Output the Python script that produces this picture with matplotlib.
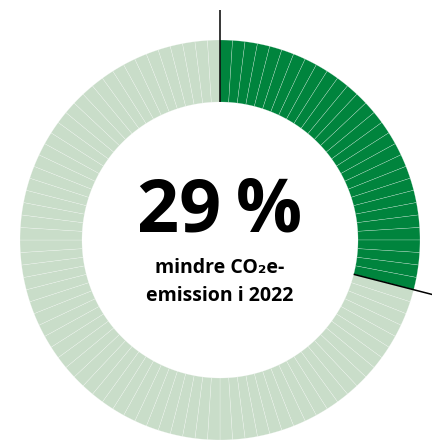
import matplotlib
matplotlib.use("Agg")
import matplotlib.pyplot as plt
import numpy as np

# Share of the ring that is highlighted (percent) and number of ring segments
share = 29
n_segments = 100
big_label = "29\u2009%"
sub_lines = ["mindre CO\u2082e-", "emission i 2022"]

dark_green = "#00843D"
light_green = "#C9DDC9"

plt.rcParams["font.family"] = ["Open Sans", "DejaVu Sans"]

fig = plt.figure(figsize=(4.32, 4.42), dpi=100)
ax = fig.add_axes([0, 0, 1, 1])

H = 442
cx, cy = 220, H - 240
r_out, r_in = 200, 138

colors = [dark_green if i < share else light_green for i in range(n_segments)]
ax.pie([1] * n_segments, colors=colors, startangle=90, counterclock=False,
       center=(cx, cy), radius=r_out,
       wedgeprops=dict(width=r_out - r_in, edgecolor=(1, 1, 1, 0.5), linewidth=0.3))

# black marker lines at start and end of the highlighted part
for frac, r_end in [(0, 230), (share / n_segments, 222)]:
    ang = np.pi / 2 - 2 * np.pi * frac
    ax.plot([cx + r_in * np.cos(ang), cx + r_end * np.cos(ang)],
            [cy + r_in * np.sin(ang), cy + r_end * np.sin(ang)],
            color="black", lw=1.1, solid_capstyle="butt")

ax.text(cx, H - 212, big_label, ha="center", va="center", fontsize=53,
        fontweight="bold", color="black")
ax.text(cx, H - 268, sub_lines[0], ha="center", va="center", fontsize=14,
        fontweight="bold", color="black")
ax.text(cx, H - 296, sub_lines[1], ha="center", va="center", fontsize=14,
        fontweight="bold", color="black")

ax.set_xlim(0, 432)
ax.set_ylim(0, H)
ax.set_aspect("auto")
ax.axis("off")

fig.savefig("out.png", dpi=100)
